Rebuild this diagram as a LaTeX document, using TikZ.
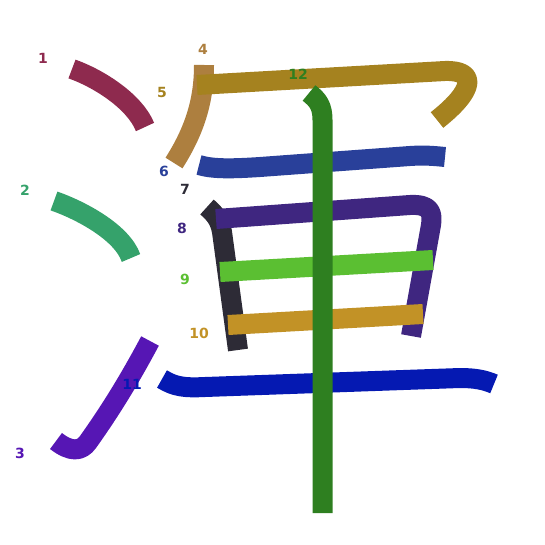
\documentclass[tikz,border=0pt]{standalone}
\usepackage{fontspec}
\newfontfamily\lblfont{DejaVu Sans}
\definecolor{cA}{HTML}{8E2A4E}
\definecolor{cB}{HTML}{35A26B}
\definecolor{cC}{HTML}{5616B4}
\definecolor{cD}{HTML}{AD7F3F}
\definecolor{cE}{HTML}{A5821F}
\definecolor{cF}{HTML}{29409A}
\definecolor{cG}{HTML}{2D2B36}
\definecolor{cH}{HTML}{3F2680}
\definecolor{cI}{HTML}{5BBF32}
\definecolor{cJ}{HTML}{C29226}
\definecolor{cK}{HTML}{0519B2}
\definecolor{cL}{HTML}{2E7F20}
\tikzset{
  strk/.style={line width=20pt, line cap=butt, line join=round},
  lbl/.style={font=\lblfont\bfseries\fontsize{14}{14}\selectfont, inner sep=0pt}
}
\begin{document}
\begin{tikzpicture}[x=1pt,y=-1pt]
\useasboundingbox (0,0) rectangle (545,545);
% strokes
\draw[strk,cA] (72,69) .. controls (100,79) and (135,102) .. (145,127);
\draw[strk,cB] (54,201) .. controls (80,210) and (122,232) .. (131,258);
\draw[strk,cC] (150,341) .. controls (125,388) and (105,418) .. (88,442) .. controls (81,452) and (70,452) .. (56,441);
\draw[strk,cD] (204,65) .. controls (204,100) and (195,130) .. (174,163);
\draw[strk,cE] (197,85) -- (445,71) .. controls (477,70) and (475,90) .. (437,120);
\draw[strk,cF] (199,165) .. controls (212,169) and (230,169) .. (260,167) -- (410,156) .. controls (425,155) and (435,156) .. (445,157);
\draw[strk,cG] (207,207) .. controls (215,214) and (220,220) .. (222,232) -- (238,350);
\draw[strk,cH] (216,219) -- (410,205) .. controls (430,204) and (433,212) .. (431,225) -- (411,336);
\draw[strk,cI] (220,272) -- (433,260);
\draw[strk,cJ] (228,325) -- (423,314);
\draw[strk,cK] (162,379) .. controls (175,387) and (185,388) .. (205,387) -- (460,378) .. controls (475,378) and (485,380) .. (494,384);
\draw[strk,cL] (309,93) .. controls (318,100) and (322.5,106) .. (322.5,120) -- (322.5,513);
% labels
\node[lbl,text=cA] (n1) at (43,58) {1};
\node[lbl,text=cB] (n2) at (25,190) {2};
\node[lbl,text=cC] (n3) at (20,453) {3};
\node[lbl,text=cD] (n4) at (203,49) {4};
\node[lbl,text=cE] (n5) at (162,92) {5};
\node[lbl,text=cF] (n6) at (164,171) {6};
\node[lbl,text=cG] (n7) at (185,189) {7};
\node[lbl,text=cH] (n8) at (182,228) {8};
\node[lbl,text=cI] (n9) at (185,279) {9};
\node[lbl,text=cJ] (n10) at (199,333) {10};
\node[lbl,text=cK] (n11) at (132,384) {11};
\node[lbl,text=cL] (n12) at (298,74) {12};
\end{tikzpicture}
\end{document}
